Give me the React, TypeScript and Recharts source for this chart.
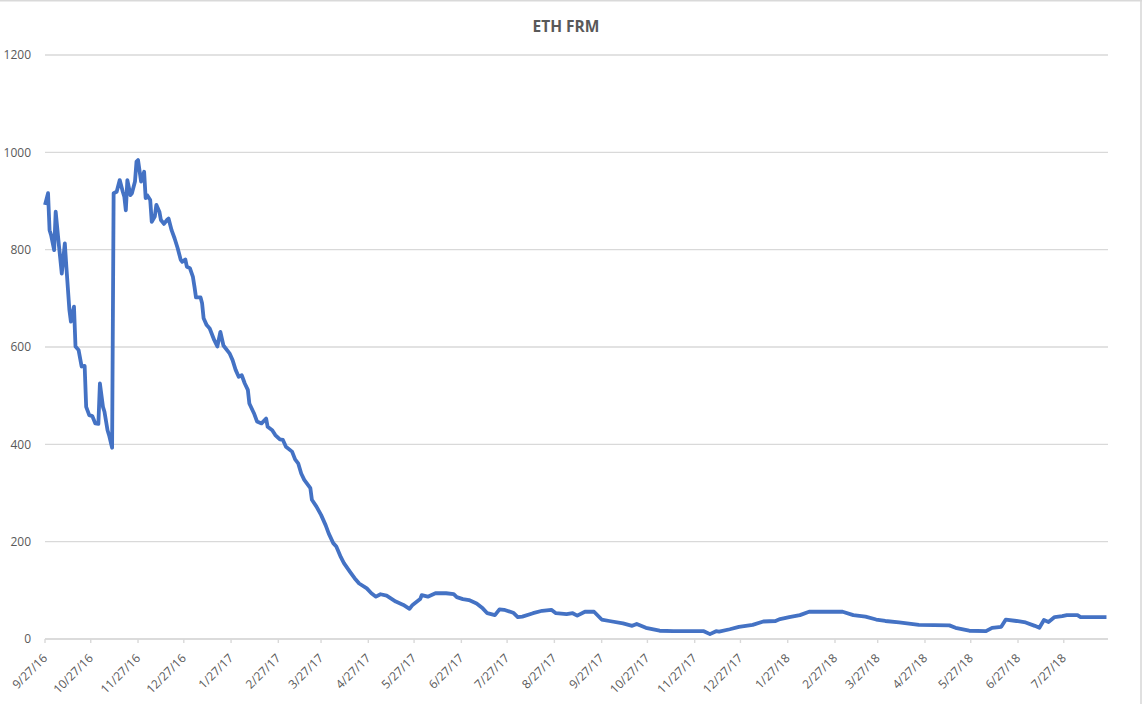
import React from 'react';
import { LineChart, Line, XAxis, YAxis, CartesianGrid } from 'recharts';

// days since 9/27/16 for each reading
const days = [
  0, 2, 3, 4, 6, 7, 9, 11, 13, 14, 16, 17, 19, 20, 22, 24, 26, 27, 29, 31,
  33, 35, 36, 38, 39, 41, 42, 44, 45, 47, 49, 51, 52, 53, 54, 56, 57, 59, 60, 61,
  63, 65, 66, 67, 69, 70, 72, 73, 75, 76, 78, 80, 81, 83, 85, 87, 89, 90, 92, 93,
  95, 97, 98, 99, 102, 103, 104, 106, 108, 111, 113, 115, 117, 121, 123, 125, 127, 129, 131, 133,
  134, 137, 139, 142, 145, 146, 149, 151, 154, 156, 158, 162, 164, 166, 168, 170, 174, 175, 178, 181,
  184, 186, 189, 191, 194, 196, 200, 203, 206, 211, 214, 217, 220, 224, 230, 235, 239, 241, 246, 247,
  251, 256, 263, 268, 270, 274, 278, 283, 287, 290, 295, 298, 301, 307, 310, 313, 320, 326, 332, 335,
  342, 346, 349, 354, 360, 365, 370, 379, 385, 388, 394, 403, 412, 432, 436, 440, 442, 449, 455, 464,
  471, 479, 482, 488, 495, 501, 523, 530, 538, 545, 551, 560, 573, 593, 597, 606, 617, 621, 627, 630,
  637, 643, 649, 652, 655, 658, 662, 667, 670, 677, 679, 696,
];

const frm = [
  892, 916, 840, 830, 799, 878, 813, 751, 813, 765, 676, 652, 683, 601, 594, 560, 561, 477, 460, 458,
  443, 442, 525, 477, 467, 429, 419, 393, 916, 919, 943, 919, 909, 881, 943, 912, 916, 940, 981, 984,
  940, 960, 906, 912, 902, 857, 868, 892, 878, 861, 853, 861, 864, 840, 823, 803, 779, 775, 780, 765,
  762, 744, 724, 702, 702, 690, 659, 645, 638, 614, 601, 631, 603, 587, 573, 553, 539, 542, 525, 512,
  484, 464, 447, 443, 453, 436, 429, 419, 410, 409, 395, 385, 369, 361, 340, 327, 310, 286, 272, 255,
  234, 217, 197, 190, 168, 156, 138, 125, 114, 104, 94, 87, 92, 89, 77, 70, 62, 70, 82, 90,
  87, 94, 94, 92, 86, 82, 80, 73, 63, 53, 49, 61, 60, 54, 45, 46, 53, 58, 60, 53,
  51, 53, 48, 56, 56, 40, 37, 32, 27, 31, 23, 17, 16, 16, 10, 16, 15, 20, 25, 29,
  36, 37, 41, 45, 49, 56, 56, 49, 46, 40, 37, 34, 29, 28, 23, 17, 16, 23, 25, 40,
  37, 34, 27, 23, 39, 35, 45, 47, 49, 49, 45, 45,
];

const tickLabels = [
  '9/27/16', '10/27/16', '11/27/16', '12/27/16', '1/27/17', '2/27/17', '3/27/17', '4/27/17',
  '5/27/17', '6/27/17', '7/27/17', '8/27/17', '9/27/17', '10/27/17', '11/27/17', '12/27/17',
  '1/27/18', '2/27/18', '3/27/18', '4/27/18', '5/27/18', '6/27/18', '7/27/18',
];

const yTicks = [0, 200, 400, 600, 800, 1000, 1200];

const toDay = (s: string) => {
  const [m, d, y] = s.split('/').map(Number);
  return Math.round((Date.UTC(2000 + y, m - 1, d) - Date.UTC(2016, 8, 27)) / 86400000);
};

const tickDays = tickLabels.map(toDay);
const labelByDay = new Map(tickDays.map((d, i) => [d, tickLabels[i]]));

const data = days.map((day, i) => ({ day, frm: frm[i] }));

const grey = '#595959';
const font = '"Open Sans", sans-serif';

const DateTick = (props: any) => {
  const { x, y, payload } = props;
  const tx = x + 3;
  const ty = y + 14;
  return (
    <text
      x={tx}
      y={ty}
      transform={`rotate(-45, ${tx}, ${ty})`}
      textAnchor="end"
      fill={grey}
      fontSize={12}
      fontFamily={font}
    >
      {labelByDay.get(payload.value)}
    </text>
  );
};

export default function App() {
  return (
    <div style={{ position: 'absolute', left: 0, top: 0, width: 1142, height: 704, background: '#fff' }}>
      <LineChart
        width={1142}
        height={704}
        data={data}
        margin={{ top: 55, right: 34, bottom: 0, left: 0 }}
      >
        <CartesianGrid vertical={false} stroke="#d9d9d9" strokeWidth={1.4} />
        <XAxis
          dataKey="day"
          type="number"
          domain={[0, 697]}
          ticks={tickDays}
          interval={0}
          height={65}
          axisLine={{ stroke: '#d9d9d9', strokeWidth: 1.6 }}
          tickLine={{ stroke: '#d9d9d9', strokeWidth: 1.4 }}
          tickSize={4}
          tick={<DateTick />}
        />
        <YAxis
          domain={[0, 1200]}
          ticks={yTicks}
          width={45}
          axisLine={false}
          tickLine={false}
          tickSize={0}
          tickMargin={14}
          tick={{ fill: grey, fontSize: 12, fontFamily: font }}
        />
        <Line
          type="linear"
          dataKey="frm"
          stroke="#4472C4"
          strokeWidth={3.8}
          strokeLinejoin="round"
          dot={false}
          isAnimationActive={false}
        />
      </LineChart>
      <svg
        width={1142}
        height={704}
        style={{ position: 'absolute', left: 0, top: 0, pointerEvents: 'none' }}
      >
        <text x={566} y={31.5} textAnchor="middle" fill={grey} fontSize={15.5} fontWeight="bold" fontFamily={font}>
          ETH FRM
        </text>
        <line x1={0} y1={0.8} x2={1142} y2={0.8} stroke="#d9d9d9" strokeWidth={1.6} />
        <line x1={1141} y1={0} x2={1141} y2={704} stroke="#d9d9d9" strokeWidth={1.6} />
      </svg>
    </div>
  );
}
